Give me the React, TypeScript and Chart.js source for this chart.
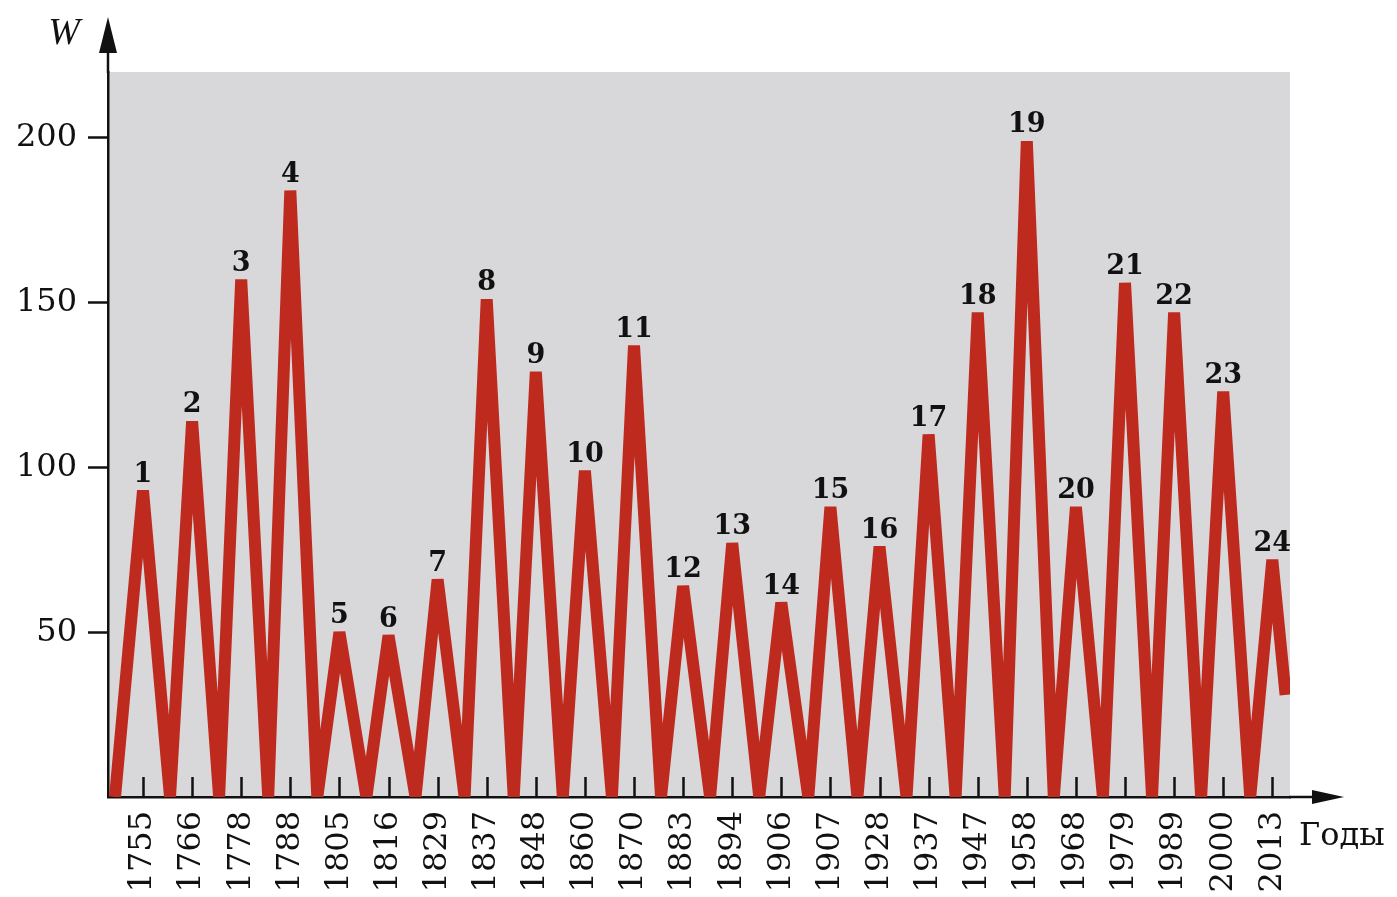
import React, { useEffect, useRef } from "react";
import { Chart, registerables } from "chart.js";

Chart.register(...registerables);

const years = [
  "1755", "1766", "1778", "1788", "1805", "1816", "1829", "1837", "1848", "1860",
  "1870", "1883", "1894", "1906", "1907", "1928", "1937", "1947", "1958", "1968",
  "1979", "1989", "2000", "2013",
];
const peakValues = [93, 114, 157, 184, 50, 49, 66, 151, 129, 99, 137, 64, 77, 59, 88, 76, 110, 147, 199, 88, 156, 147, 123, 72];
const peakNumbers = [
  "1", "2", "3", "4", "5", "6", "7", "8", "9", "10", "11", "12",
  "13", "14", "15", "16", "17", "18", "19", "20", "21", "22", "23", "24",
];
const troughValues = [0, 0, 0, 0, 0, 0, 0, 0, 0, 0, 0, 0, 0, 0, 0, 0, 0, 0, 0, 0, 0, 0, 0, 31];
const startValue = 0;
const yTicks = [50, 100, 150, 200];

const yAxisTitle = "W";
const xAxisTitle = "Годы";

const FONT = "'DejaVu Serif', serif";
const INK = "#111111";
const LINE = "#bf2a1f";

function buildPoints() {
  const pts: { x: number; y: number }[] = [{ x: -0.57, y: startValue }];
  peakValues.forEach((v, i) => {
    pts.push({ x: i, y: v });
    const last = i === peakValues.length - 1;
    pts.push({ x: i + (last ? 0.27 : 0.55), y: troughValues[i] });
  });
  return pts;
}

const decor = {
  id: "decor",
  beforeDraw(chart: any) {
    const { ctx, chartArea: a } = chart;
    ctx.save();
    ctx.fillStyle = "#d8d8da";
    ctx.fillRect(a.left, a.top, a.right - a.left, a.bottom - a.top);
    ctx.restore();
  },
  afterDatasetsDraw(chart: any) {
    const { ctx, chartArea: a, scales } = chart;
    const xs = scales.x;
    const ys = scales.y;
    ctx.save();
    ctx.strokeStyle = INK;
    ctx.lineWidth = 2.5;
    years.forEach((_, i) => {
      const px = Math.round(xs.getPixelForValue(i)) + 0.5;
      ctx.beginPath();
      ctx.moveTo(px, a.bottom);
      ctx.lineTo(px, a.bottom - 20);
      ctx.stroke();
    });
    ctx.fillStyle = INK;
    ctx.font = `bold 27px ${FONT}`;
    ctx.textAlign = "center";
    ctx.textBaseline = "alphabetic";
    peakValues.forEach((v, i) => {
      const px = xs.getPixelForValue(i);
      const py = ys.getPixelForValue(v);
      ctx.fillText(peakNumbers[i], px, py - 9);
    });
    ctx.restore();
  },
  afterDraw(chart: any) {
    const { ctx, chartArea: a } = chart;
    ctx.save();
    ctx.strokeStyle = INK;
    ctx.fillStyle = INK;
    ctx.lineWidth = 2.5;
    ctx.beginPath();
    ctx.moveTo(a.left, a.top + 1);
    ctx.lineTo(a.left, 50);
    ctx.stroke();
    ctx.beginPath();
    ctx.moveTo(a.left, 17);
    ctx.lineTo(a.left - 9, 53);
    ctx.lineTo(a.left + 9, 53);
    ctx.closePath();
    ctx.fill();
    ctx.beginPath();
    ctx.moveTo(a.right - 1, a.bottom);
    ctx.lineTo(1315, a.bottom);
    ctx.stroke();
    ctx.beginPath();
    ctx.moveTo(1344, a.bottom);
    ctx.lineTo(1312, a.bottom - 7);
    ctx.lineTo(1312, a.bottom + 7);
    ctx.closePath();
    ctx.fill();
    ctx.font = "italic 38px 'Liberation Serif', serif";
    ctx.textAlign = "center";
    ctx.textBaseline = "middle";
    ctx.fillText(yAxisTitle, 64, 34);
    ctx.font = `32px ${FONT}`;
    ctx.textAlign = "left";
    ctx.textBaseline = "alphabetic";
    ctx.fillText(xAxisTitle, 1299, 845);
    ctx.restore();
  },
};

export default function App() {
  const canvasRef = useRef<HTMLCanvasElement>(null);

  useEffect(() => {
    const canvas = canvasRef.current;
    if (!canvas) return;
    const chart = new Chart(canvas, {
      type: "line",
      data: {
        datasets: [
          {
            data: buildPoints(),
            borderColor: LINE,
            borderWidth: 12,
            borderJoinStyle: "bevel",
            borderCapStyle: "butt",
            pointRadius: 0,
            tension: 0,
            fill: false,
          },
        ],
      },
      options: {
        responsive: false,
        animation: false,
        devicePixelRatio: 1,
        layout: { padding: { top: 72, right: 107, left: 0, bottom: 0 } },
        plugins: { legend: { display: false }, tooltip: { enabled: false } },
        scales: {
          x: {
            type: "linear",
            min: -0.713,
            max: 23.36,
            afterBuildTicks: (s: any) => {
              s.ticks = years.map((_, i) => ({ value: i }));
            },
            afterFit: (s: any) => {
              s.height = 100;
            },
            grid: { display: true, drawOnChartArea: false, drawTicks: false },
            border: { display: true, color: INK, width: 2.5 },
            ticks: {
              autoSkip: false,
              minRotation: 90,
              maxRotation: 90,
              padding: 14,
              color: INK,
              font: { family: FONT, size: 32 },
              callback: (v: any) => years[Math.round(Number(v))] ?? "",
            },
          },
          y: {
            type: "linear",
            min: 0,
            max: 220,
            afterBuildTicks: (s: any) => {
              s.ticks = yTicks.map((v) => ({ value: v }));
            },
            afterFit: (s: any) => {
              s.width = 108;
            },
            grid: {
              display: true,
              drawOnChartArea: false,
              drawTicks: true,
              tickLength: 20,
              tickWidth: 2.5,
              tickColor: INK,
            },
            border: { display: true, color: INK, width: 2.5 },
            ticks: {
              padding: 11,
              color: INK,
              font: { family: FONT, size: 32 },
              callback: (v: any) => String(v),
            },
          },
        },
      },
      plugins: [decor],
    } as any);
    return () => chart.destroy();
  }, []);

  return (
    <div style={{ position: "fixed", left: 0, top: 0, width: 1397, height: 897, background: "#fff" }}>
      <canvas ref={canvasRef} width={1397} height={897} />
    </div>
  );
}
